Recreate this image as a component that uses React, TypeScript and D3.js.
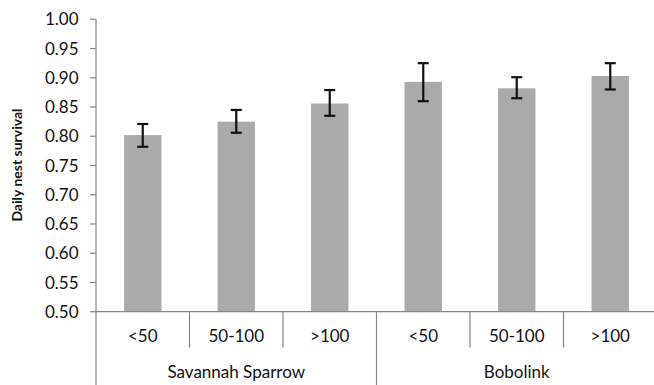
import * as d3 from 'd3';

// data
const species = ['Savannah Sparrow', 'Bobolink'];
const distances = ['<50', '50-100', '>100'];
const survival = [0.802, 0.825, 0.856, 0.893, 0.882, 0.903];
const errUpper = [0.821, 0.845, 0.879, 0.925, 0.901, 0.925];
const errLower = [0.782, 0.806, 0.835, 0.860, 0.865, 0.880];
const yTicks = [0.5, 0.55, 0.6, 0.65, 0.7, 0.75, 0.8, 0.85, 0.9, 0.95, 1.0];

const W = 654;
const H = 385;
const FONT = 'Lato, "Open Sans", sans-serif';
const AXIS = '#868686';
const BAR = '#aaaaaa';
const TEXT = '#111';

export default function App() {
  const left = 96;
  const right = 657;
  const top = 19.3;
  const base = 311.7;

  const cats = species.flatMap((s) => distances.map((d) => `${s}|${d}`));

  const x = d3.scaleBand<string>().domain(cats).range([left, right]).padding(0);
  const y = d3.scaleLinear().domain([0.5, 1.0]).range([base, top]);

  const step = x.step();
  const barW = step * 0.4;
  const capW = 11;

  return (
    <div style={{ position: 'fixed', left: 0, top: 0 }}>
      <svg width={W} height={H} style={{ display: 'block', background: '#fff' }}>
        {/* y axis */}
        <line x1={left} x2={left} y1={top} y2={H} stroke={AXIS} strokeWidth={1.2} />
        {yTicks.map((t) => (
          <g key={t}>
            <line x1={left - 6} x2={left} y1={y(t)} y2={y(t)} stroke={AXIS} strokeWidth={1.2} />
            <text
              x={78.5}
              y={y(t)}
              dy="0.36em"
              textAnchor="end"
              fontFamily={FONT}
              fontSize={17}
              fill={TEXT}
            >
              {d3.format('.2f')(t)}
            </text>
          </g>
        ))}
        <text
          transform={`translate(22,165) rotate(-90)`}
          textAnchor="middle"
          fontFamily={FONT}
          fontWeight="bold"
          fontSize={14}
          fill={TEXT}
        >
          Daily nest survival
        </text>

        {/* bars */}
        {cats.map((c, i) => {
          const cx = (x(c) as number) + step / 2;
          return (
            <g key={c}>
              <rect
                x={cx - barW / 2}
                y={y(survival[i])}
                width={barW}
                height={base - y(survival[i])}
                fill={BAR}
              />
              <line x1={cx} x2={cx} y1={y(errUpper[i])} y2={y(errLower[i])} stroke="#111" strokeWidth={2.2} />
              <line x1={cx - capW / 2} x2={cx + capW / 2} y1={y(errUpper[i])} y2={y(errUpper[i])} stroke="#111" strokeWidth={2.2} />
              <line x1={cx - capW / 2} x2={cx + capW / 2} y1={y(errLower[i])} y2={y(errLower[i])} stroke="#111" strokeWidth={2.2} />
            </g>
          );
        })}

        {/* x axis */}
        <line x1={left} x2={right} y1={base} y2={base} stroke={AXIS} strokeWidth={1.2} />
        {cats.map((c, i) => {
          const x0 = x(c) as number;
          const d = distances[i % distances.length];
          return (
            <g key={`lab-${c}`}>
              {i > 0 && (
                <line
                  x1={x0}
                  x2={x0}
                  y1={base}
                  y2={i % distances.length === 0 ? H : 347.5}
                  stroke={AXIS}
                  strokeWidth={1.2}
                />
              )}
              <text
                x={x0 + step / 2}
                y={341.5}
                textAnchor="middle"
                fontFamily={FONT}
                fontSize={17}
                fill={TEXT}
              >
                {d}
              </text>
            </g>
          );
        })}
        {species.map((s) => {
          const x0 = x(`${s}|${distances[0]}`) as number;
          const gw = step * distances.length;
          return (
            <text
              key={s}
              x={x0 + gw / 2}
              y={377.5}
              textAnchor="middle"
              fontFamily={FONT}
              fontSize={17}
              fill={TEXT}
            >
              {s}
            </text>
          );
        })}
      </svg>
    </div>
  );
}
